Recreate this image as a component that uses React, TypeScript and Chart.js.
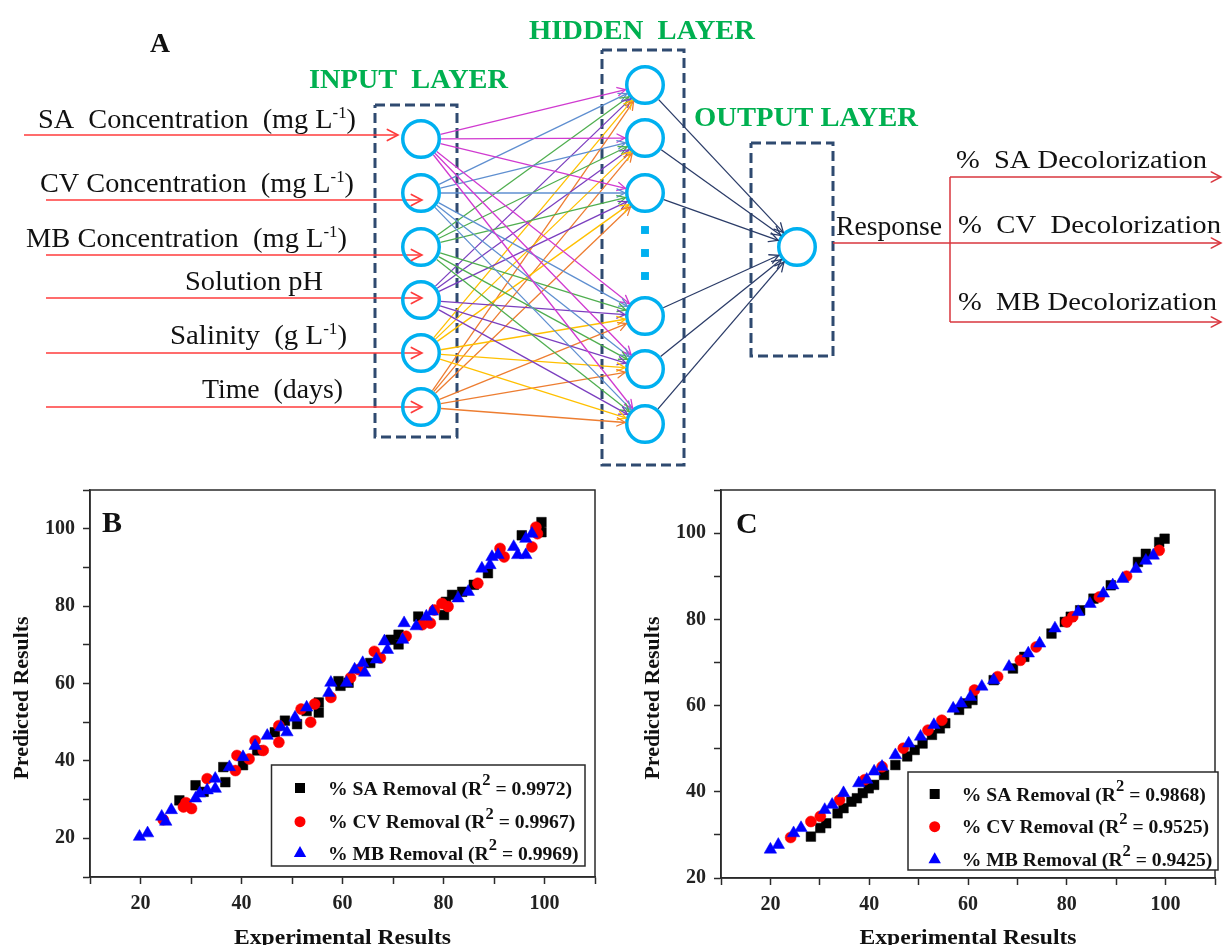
import React, { useEffect, useRef } from 'react';
import { Chart, registerables } from 'chart.js';

Chart.register(...registerables);

const SERIF = '"Liberation Serif", "Times New Roman", Times, serif';
const INK = '#111111';
const GREEN = '#00b050';
const NODE_BLUE = '#00b0f0';
const BOX_NAVY = '#2f4a70';
const LINK_NAVY = '#2b3c68';
const ARROW_RED = '#ff3b3b';
const OUT_RED = '#d9363e';
const AXIS_INK = '#2a2a2a';

// ================= Panel A : network diagram =================
const PANEL_A_LETTER = 'A';
const LAYER_TITLES = ['INPUT  LAYER', 'HIDDEN  LAYER', 'OUTPUT LAYER'];
const INPUT_LABELS = [
  'SA  Concentration  (mg L^{-1})',
  'CV Concentration  (mg L^{-1})',
  'MB Concentration  (mg L^{-1})',
  'Solution pH',
  'Salinity  (g L^{-1})',
  'Time  (days)',
];
const RESPONSE_LABEL = 'Response';
const OUTPUT_LABELS = ['%  SA Decolorization', '%  CV  Decolorization', '%  MB Decolorization'];
const INPUT_LINK_COLORS = ['#d03ad0', '#5f8fd0', '#4fae4f', '#7b3fbf', '#ffc000', '#ed7d31'];

const INPUT_NODE_X = 421;
const INPUT_NODE_Y = [139, 193, 247, 300, 353, 407];
const HIDDEN_NODE_X = 645;
const HIDDEN_NODE_Y = [85, 138, 193, 316, 369, 424];
const HIDDEN_DOTS_Y = [230, 253, 276];
const OUTPUT_NODE_X = 797;
const OUTPUT_NODE_Y = 247;
const NODE_R = 20;
const INPUT_ARROW_Y = [135, 200, 255, 298, 353, 407];
const INPUT_ARROW_START = [24, 46, 46, 46, 46, 46];
const INPUT_ARROW_END = [398, 422, 422, 422, 422, 422];
const RESPONSE_START = 833;
const BRANCH_X = 950;
const OUTPUT_ARROW_Y = [177, 243, 322];
const OUTPUT_ARROW_END = 1221;
const LAYER_BOXES = [
  [375, 105, 457, 437],
  [602, 50, 684, 465],
  [751, 143, 833, 356],
];

// ================= Panels B, C : scatter =================
const X_TITLE = 'Experimental Results';
const Y_TITLE = 'Predicted Results';
const SERIES_NAMES = ['% SA Removal', '% CV Removal', '% MB Removal'];
const TICK_LABELS = [20, 40, 60, 80, 100];
const R2_B = ['0.9972', '0.9967', '0.9969'];
const R2_C = ['0.9868', '0.9525', '0.9425'];

const SA_B = [
  [27.7, 29.8], [30.9, 33.7], [32.5, 32.0], [36.8, 34.5], [36.4, 38.4], [40.3, 38.9], [43.1, 42.7],
  [46.6, 47.4], [48.6, 50.4], [51.0, 49.5], [52.9, 52.9], [55.3, 55.1], [55.3, 52.5], [59.2, 60.6],
  [59.6, 59.4], [61.2, 60.2], [65.5, 65.3], [69.5, 71.3], [71.1, 72.6], [71.1, 70.1], [75.0, 77.3],
  [80.1, 77.7], [80.5, 81.1], [81.7, 82.9], [83.7, 83.7], [86.0, 85.5], [88.8, 88.5], [95.5, 98.3],
  [99.0, 100.0], [99.4, 101.7], [99.4, 99.1],
];
const CV_B = [
  [24.5, 24.8], [28.5, 28.1], [30.1, 27.7], [29.0, 29.2], [33.2, 35.4], [38.8, 37.5], [39.1, 41.4],
  [41.5, 40.5], [42.7, 45.2], [44.3, 42.7], [47.4, 44.8], [47.4, 49.1], [51.8, 53.4], [53.7, 50.0],
  [54.5, 54.7], [57.7, 56.4], [61.6, 61.5], [63.2, 63.6], [66.3, 68.3], [67.5, 66.6], [72.6, 72.2],
  [75.8, 75.2], [77.4, 75.6], [78.2, 79.0], [79.7, 80.7], [80.9, 79.9], [86.8, 85.9], [91.2, 94.9],
  [92.0, 92.7], [97.5, 95.3], [98.3, 100.4], [98.6, 98.7],
];
const MB_B = [
  [19.8, 20.4], [21.4, 21.3], [24.2, 25.6], [25.0, 24.3], [26.1, 27.3], [30.9, 30.3], [31.7, 31.6],
  [33.2, 32.4], [34.8, 35.4], [34.8, 32.8], [37.6, 38.4], [40.3, 41.0], [42.7, 43.9], [45.1, 46.5],
  [47.8, 48.7], [49.0, 47.4], [50.6, 51.2], [52.9, 53.8], [57.3, 57.6], [57.7, 60.2], [60.8, 60.2],
  [62.4, 63.6], [64.0, 65.3], [64.4, 62.8], [66.7, 66.2], [68.3, 70.9], [68.9, 68.7], [71.9, 71.3],
  [72.2, 75.6], [74.6, 74.8], [76.6, 77.3], [77.8, 78.6], [82.9, 82.0], [84.9, 83.7], [87.6, 89.7],
  [89.2, 90.6], [89.6, 92.7], [90.8, 93.2], [93.9, 95.3], [94.7, 93.2], [96.3, 93.2], [96.3, 97.4],
  [97.5, 98.7],
];

const SA_C = [
  [28.2, 29.6], [30.1, 31.6], [31.3, 32.7], [33.6, 35.0], [34.8, 36.2], [36.4, 37.7], [37.5, 38.5],
  [38.7, 39.7], [39.9, 40.8], [41.0, 41.6], [43.0, 43.9], [45.3, 46.2], [47.7, 48.2], [49.2, 49.7],
  [50.8, 51.2], [52.7, 53.2], [54.3, 54.7], [55.4, 55.9], [58.2, 59.0], [59.7, 60.5], [60.9, 61.3],
  [65.2, 65.9], [69.1, 68.6], [71.4, 71.3], [76.9, 76.7], [79.6, 79.4], [80.8, 80.6], [82.7, 82.1],
  [85.4, 84.8], [88.9, 87.9], [94.4, 93.3], [96.0, 95.2], [98.7, 97.9], [99.8, 98.7],
];
const CV_C = [
  [24.1, 29.4], [28.2, 33.1], [30.1, 34.3], [34.0, 38.1], [39.1, 42.8], [42.6, 45.8], [46.9, 50.1],
  [51.9, 54.3], [54.7, 56.6], [61.3, 63.6], [66.0, 66.7], [70.6, 70.5], [73.8, 73.6], [80.0, 79.4],
  [81.2, 80.6], [86.6, 85.2], [92.1, 90.0], [98.7, 96.0],
];
const MB_C = [
  [20.0, 26.6], [21.6, 27.7], [24.7, 30.4], [26.2, 31.6], [31.0, 35.8], [32.5, 37.0], [34.8, 39.7],
  [37.9, 42.0], [39.5, 42.8], [41.0, 44.7], [42.6, 45.8], [45.3, 48.5], [48.0, 51.2], [50.4, 52.8],
  [53.1, 55.5], [57.0, 59.3], [58.6, 60.5], [60.5, 62.0], [62.8, 64.4], [65.2, 65.9], [68.3, 69.0],
  [72.2, 72.1], [74.5, 74.4], [77.6, 77.9], [82.3, 81.7], [84.7, 83.6], [87.4, 86.0], [89.3, 87.9],
  [91.3, 89.4], [94.0, 91.7], [96.0, 93.6], [97.5, 94.8],
];

// ================= helpers =================
type Seg = { t: string; sup: boolean };
function parseRich(s: string): Seg[] {
  const out: Seg[] = [];
  const re = /\^\{([^}]*)\}/g;
  let last = 0;
  let m: RegExpExecArray | null;
  while ((m = re.exec(s))) {
    if (m.index > last) out.push({ t: s.slice(last, m.index), sup: false });
    out.push({ t: m[1], sup: true });
    last = re.lastIndex;
  }
  if (last < s.length) out.push({ t: s.slice(last), sup: false });
  return out;
}

function richWidth(ctx: CanvasRenderingContext2D, text: string, size: number, weight: string, supScale: number) {
  const segs = parseRich(text);
  let w = 0;
  segs.forEach((s) => {
    ctx.font = `${weight} ${s.sup ? Math.round(size * supScale) : size}px ${SERIF}`;
    w += ctx.measureText(s.t).width;
  });
  return w;
}

function drawRich(
  ctx: CanvasRenderingContext2D,
  text: string,
  x: number,
  y: number,
  o: { size: number; weight?: string; color?: string; w?: number; sx?: number; align?: string; supScale?: number; supRise?: number }
) {
  const weight = o.weight || 'normal';
  const supScale = o.supScale ?? 0.6;
  const supRise = o.supRise ?? 0.38;
  const segs = parseRich(text);
  ctx.save();
  const natural = richWidth(ctx, text, o.size, weight, supScale);
  const sx = o.w ? o.w / natural : o.sx ?? 1;
  const total = natural * sx;
  ctx.translate(o.align === 'center' ? x - total / 2 : x, y);
  ctx.scale(sx, 1);
  ctx.fillStyle = o.color || INK;
  ctx.textAlign = 'left';
  ctx.textBaseline = 'alphabetic';
  let cx = 0;
  segs.forEach((s) => {
    ctx.font = `${weight} ${s.sup ? Math.round(o.size * supScale) : o.size}px ${SERIF}`;
    ctx.fillText(s.t, cx, s.sup ? -o.size * supRise : 0);
    cx += ctx.measureText(s.t).width;
  });
  ctx.restore();
}

function drawArrowHead(ctx: CanvasRenderingContext2D, x0: number, y0: number, x1: number, y1: number, color: string, lw: number, len: number) {
  const ang = Math.atan2(y1 - y0, x1 - x0);
  const a = 0.48;
  ctx.save();
  ctx.strokeStyle = color;
  ctx.lineWidth = lw;
  ctx.lineCap = 'round';
  ctx.lineJoin = 'miter';
  ctx.beginPath();
  ctx.moveTo(x1 - len * Math.cos(ang - a), y1 - len * Math.sin(ang - a));
  ctx.lineTo(x1, y1);
  ctx.lineTo(x1 - len * Math.cos(ang + a), y1 - len * Math.sin(ang + a));
  ctx.stroke();
  ctx.restore();
}

// ================= Panel A chart =================
const A_TEXT_LAYOUT = [
  { text: PANEL_A_LETTER, x: 150, y: 52, w: 20, size: 28, weight: 'bold', color: INK },
  { text: LAYER_TITLES[0], x: 309, y: 88, w: 199, size: 28, weight: 'bold', color: GREEN },
  { text: LAYER_TITLES[1], x: 529, y: 39, w: 226, size: 28, weight: 'bold', color: GREEN },
  { text: LAYER_TITLES[2], x: 694, y: 126, w: 224, size: 28, weight: 'bold', color: GREEN },
  { text: INPUT_LABELS[0], x: 38, y: 128, w: 318, size: 27, weight: 'normal', color: INK },
  { text: INPUT_LABELS[1], x: 40, y: 192, w: 314, size: 27, weight: 'normal', color: INK },
  { text: INPUT_LABELS[2], x: 26, y: 247, w: 321, size: 27, weight: 'normal', color: INK },
  { text: INPUT_LABELS[3], x: 185, y: 290, w: 138, size: 27, weight: 'normal', color: INK },
  { text: INPUT_LABELS[4], x: 170, y: 344, w: 177, size: 27, weight: 'normal', color: INK },
  { text: INPUT_LABELS[5], x: 202, y: 398, w: 141, size: 27, weight: 'normal', color: INK },
  { text: RESPONSE_LABEL, x: 836, y: 235, w: 106, size: 27, weight: 'normal', color: INK },
  { text: OUTPUT_LABELS[0], x: 956, y: 168, w: 251, size: 26, weight: 'normal', color: INK },
  { text: OUTPUT_LABELS[1], x: 958, y: 233, w: 263, size: 26, weight: 'normal', color: INK },
  { text: OUTPUT_LABELS[2], x: 958, y: 310, w: 259, size: 26, weight: 'normal', color: INK },
];

const networkPlugin = {
  id: 'networkDecor',
  afterDatasetsDraw(chart: any) {
    const ctx: CanvasRenderingContext2D = chart.ctx;
    chart.data.datasets.forEach((ds: any, i: number) => {
      if (!ds.arrow) return;
      const pts = chart.getDatasetMeta(i).data;
      const a = pts[pts.length - 2];
      const b = pts[pts.length - 1];
      drawArrowHead(ctx, a.x, a.y, b.x, b.y, ds.borderColor, ds.borderWidth, ds.head || 9);
    });
    const xs = chart.scales.x;
    const ys = chart.scales.y;
    A_TEXT_LAYOUT.forEach((t) => {
      drawRich(ctx, t.text, xs.getPixelForValue(t.x), ys.getPixelForValue(t.y), {
        size: t.size, weight: t.weight, color: t.color, w: t.w, supScale: 0.6, supRise: 0.36,
      });
    });
  },
};

function seg(p0: any, p1: any, color: string, width: number, arrow: boolean, head = 9) {
  return {
    data: [p0, p1], showLine: true, borderColor: color, borderWidth: width, pointRadius: 0,
    pointHoverRadius: 0, clip: false, fill: false, arrow, head,
  };
}

function makeNetwork(canvas: HTMLCanvasElement) {
  const datasets: any[] = [];
  const node = (pts: any[]) => ({
    data: pts, showLine: false, pointStyle: 'circle', pointRadius: NODE_R - 1.75, pointHoverRadius: NODE_R - 1.75,
    pointBorderWidth: 3.5, pointBorderColor: NODE_BLUE, pointBackgroundColor: 'rgba(255,255,255,0)', clip: false,
  });
  const inputs = INPUT_NODE_Y.map((y) => ({ x: INPUT_NODE_X, y }));
  const hiddens = HIDDEN_NODE_Y.map((y) => ({ x: HIDDEN_NODE_X, y }));
  const out = { x: OUTPUT_NODE_X, y: OUTPUT_NODE_Y };
  datasets.push(node(inputs));
  datasets.push(node(hiddens));
  datasets.push(node([out]));
  datasets.push({
    data: HIDDEN_DOTS_Y.map((y) => ({ x: HIDDEN_NODE_X, y })), showLine: false, pointStyle: 'rect',
    pointRadius: 5.6, pointBorderWidth: 0, pointBackgroundColor: NODE_BLUE, pointBorderColor: NODE_BLUE, clip: false,
  });
  const unit = (a: any, b: any) => {
    const dx = b.x - a.x, dy = b.y - a.y;
    const L = Math.hypot(dx, dy);
    return { x: dx / L, y: dy / L };
  };
  INPUT_ARROW_Y.forEach((y, i) => {
    datasets.push(seg({ x: INPUT_ARROW_START[i], y }, { x: INPUT_ARROW_END[i], y }, ARROW_RED, 1.6, true, 12));
  });
  hiddens.forEach((h) => {
    const u = unit(h, out);
    datasets.push(seg({ x: h.x + u.x * NODE_R, y: h.y + u.y * NODE_R }, { x: out.x - u.x * NODE_R, y: out.y - u.y * NODE_R }, LINK_NAVY, 1.3, true, 10));
  });
  inputs.forEach((p, i) => {
    hiddens.forEach((h) => {
      const u = unit(p, h);
      datasets.push(seg({ x: p.x + u.x * NODE_R, y: p.y + u.y * NODE_R }, { x: h.x - u.x * NODE_R, y: h.y - u.y * NODE_R }, INPUT_LINK_COLORS[i], 1.3, true, 9));
    });
  });
  datasets.push(seg({ x: RESPONSE_START, y: OUTPUT_ARROW_Y[1] }, { x: OUTPUT_ARROW_END, y: OUTPUT_ARROW_Y[1] }, OUT_RED, 1.5, true, 11));
  datasets.push(seg({ x: BRANCH_X, y: OUTPUT_ARROW_Y[0] }, { x: BRANCH_X, y: OUTPUT_ARROW_Y[2] }, OUT_RED, 1.5, false));
  datasets.push(seg({ x: BRANCH_X, y: OUTPUT_ARROW_Y[0] }, { x: OUTPUT_ARROW_END, y: OUTPUT_ARROW_Y[0] }, OUT_RED, 1.5, true, 11));
  datasets.push(seg({ x: BRANCH_X, y: OUTPUT_ARROW_Y[2] }, { x: OUTPUT_ARROW_END, y: OUTPUT_ARROW_Y[2] }, OUT_RED, 1.5, true, 11));
  LAYER_BOXES.forEach(([x0, y0, x1, y1]) => {
    datasets.push({
      data: [{ x: x0, y: y0 }, { x: x1, y: y0 }, { x: x1, y: y1 }, { x: x0, y: y1 }, { x: x0, y: y0 }],
      showLine: true, borderColor: BOX_NAVY, borderWidth: 3, borderDash: [10, 5], borderCapStyle: 'butt',
      borderJoinStyle: 'miter', pointRadius: 0, pointHoverRadius: 0, clip: false, fill: false,
    });
  });

  return new Chart(canvas, {
    type: 'scatter',
    data: { datasets },
    options: {
      responsive: false,
      animation: false,
      events: [],
      layout: { padding: 0, autoPadding: false },
      plugins: { legend: { display: false }, tooltip: { enabled: false } },
      scales: {
        x: { type: 'linear', display: false, min: 0, max: 1223 },
        y: { type: 'linear', display: false, min: 0, max: 470, reverse: true },
      },
    },
    plugins: [networkPlugin],
  } as any);
}

// ================= Panels B / C =================
const MARKERS = [
  { style: 'rect', r: 6.8, color: '#000000' },
  { style: 'circle', r: 5.5, color: '#ff0000' },
  { style: 'triangle', r: 7.2, color: '#0000ff' },
];

type PanelCfg = {
  letter: string;
  series: number[][][];
  r2: string[];
  yMin: number;
  yAxisW: number;
  xAxisH: number;
  padRight: number;
  letterX: number;
  letterY: number;
  yTitleX: number;
  yTitleY: number;
  xTitleY: number;
  legend: { x0: number; y0: number; x1: number; y1: number; markerX: number; textX: number; textW: number; rows: number[] };
};

const PANEL_B: PanelCfg = {
  letter: 'B', series: [SA_B, CV_B, MB_B], r2: R2_B, yMin: 10, yAxisW: 90, xAxisH: 68, padRight: 15,
  letterX: 102, letterY: 62, yTitleX: 27.5, yTitleY: 228, xTitleY: 473.5,
  legend: { x0: 271.5, y0: 295, x1: 585, y1: 396, markerX: 300, textX: 328, textW: 244, rows: [318, 351.7, 383] },
};
const PANEL_C: PanelCfg = {
  letter: 'C', series: [SA_C, CV_C, MB_C], r2: R2_C, yMin: 20, yAxisW: 111, xAxisH: 67, padRight: 2,
  letterX: 126, letterY: 63, yTitleX: 48.5, yTitleY: 228, xTitleY: 473.5,
  legend: { x0: 298, y0: 302, x1: 608, y1: 400, markerX: 324.7, textX: 351.8, textW: 244, rows: [324, 356.7, 389.3] },
};

function drawMarker(ctx: CanvasRenderingContext2D, style: string, x: number, y: number, color: string) {
  ctx.save();
  ctx.fillStyle = color;
  ctx.beginPath();
  if (style === 'rect') {
    ctx.rect(x - 5, y - 5, 10, 10);
  } else if (style === 'circle') {
    ctx.arc(x, y, 5.5, 0, Math.PI * 2);
  } else {
    ctx.moveTo(x, y - 7);
    ctx.lineTo(x + 6.2, y + 4);
    ctx.lineTo(x - 6.2, y + 4);
    ctx.closePath();
  }
  ctx.fill();
  ctx.restore();
}

function makePanelPlugin(p: PanelCfg) {
  return {
    id: 'panelDecor',
    afterDraw(chart: any) {
      const ctx: CanvasRenderingContext2D = chart.ctx;
      const a = chart.chartArea;
      ctx.save();
      ctx.strokeStyle = AXIS_INK;
      ctx.lineWidth = 1.5;
      ctx.strokeRect(a.left, a.top, a.right - a.left, a.bottom - a.top);
      ctx.restore();
      drawRich(ctx, p.letter, p.letterX, p.letterY, { size: 30, weight: 'bold', color: INK });
      drawRich(ctx, X_TITLE, (a.left + a.right) / 2, p.xTitleY, { size: 22, weight: 'bold', color: INK, w: 217, align: 'center' });
      ctx.save();
      ctx.translate(p.yTitleX, p.yTitleY);
      ctx.rotate(-Math.PI / 2);
      drawRich(ctx, Y_TITLE, 0, 0, { size: 22, weight: 'bold', color: INK, w: 163, align: 'center' });
      ctx.restore();
      const L = p.legend;
      ctx.save();
      ctx.fillStyle = '#ffffff';
      ctx.fillRect(L.x0, L.y0, L.x1 - L.x0, L.y1 - L.y0);
      ctx.strokeStyle = AXIS_INK;
      ctx.lineWidth = 1.5;
      ctx.strokeRect(L.x0, L.y0, L.x1 - L.x0, L.y1 - L.y0);
      ctx.restore();
      const rows = SERIES_NAMES.map((n, i) => `${n} (R^{2} = ${p.r2[i]})`);
      const natural = richWidth(ctx, rows[0], 19, 'bold', 0.82);
      const sx = L.textW / natural;
      rows.forEach((r, i) => {
        drawMarker(ctx, MARKERS[i].style, L.markerX, L.rows[i], MARKERS[i].color);
        drawRich(ctx, r, L.textX, L.rows[i] + 6.5, { size: 19, weight: 'bold', color: INK, sx, supScale: 0.82, supRise: 0.5 });
      });
    },
  };
}

function makeScatter(canvas: HTMLCanvasElement, p: PanelCfg) {
  const tickFont = { family: SERIF, size: 20, weight: 'bold' };
  const label = (v: any) => (TICK_LABELS.includes(Number(v)) ? String(v) : '');
  return new Chart(canvas, {
    type: 'scatter',
    data: {
      datasets: p.series.map((s, i) => ({
        label: SERIES_NAMES[i],
        data: s.map(([x, y]) => ({ x, y })),
        pointStyle: MARKERS[i].style,
        pointRadius: MARKERS[i].r,
        pointHoverRadius: MARKERS[i].r,
        pointBackgroundColor: MARKERS[i].color,
        pointBorderColor: MARKERS[i].color,
        pointBorderWidth: 0.5,
        order: 2 - i,
        clip: false,
      })),
    },
    options: {
      responsive: false,
      animation: false,
      events: [],
      layout: { padding: { left: 0, top: 19, right: p.padRight, bottom: 0 }, autoPadding: false },
      plugins: { legend: { display: false }, tooltip: { enabled: false } },
      scales: {
        x: {
          type: 'linear', min: 10, max: 110,
          afterFit: (s: any) => { s.height = p.xAxisH; },
          ticks: { stepSize: 10, autoSkip: false, maxRotation: 0, callback: label, font: tickFont, color: '#222', padding: 8 },
          grid: { drawOnChartArea: false, drawTicks: true, tickLength: 7, tickColor: AXIS_INK, tickWidth: 1.5 },
          border: { display: true, color: AXIS_INK, width: 1.5 },
        },
        y: {
          type: 'linear', min: p.yMin, max: 110,
          afterFit: (s: any) => { s.width = p.yAxisW; },
          ticks: { stepSize: 10, autoSkip: false, callback: label, font: tickFont, color: '#222', padding: 8 },
          grid: { drawOnChartArea: false, drawTicks: true, tickLength: 7, tickColor: AXIS_INK, tickWidth: 1.5 },
          border: { display: true, color: AXIS_INK, width: 1.5 },
        },
      },
    },
    plugins: [makePanelPlugin(p)],
  } as any);
}

export default function App() {
  const aRef = useRef<HTMLCanvasElement>(null);
  const bRef = useRef<HTMLCanvasElement>(null);
  const cRef = useRef<HTMLCanvasElement>(null);

  useEffect(() => {
    const charts = [
      makeNetwork(aRef.current as HTMLCanvasElement),
      makeScatter(bRef.current as HTMLCanvasElement, PANEL_B),
      makeScatter(cRef.current as HTMLCanvasElement, PANEL_C),
    ];
    return () => charts.forEach((c) => c.destroy());
  }, []);

  return (
    <div style={{ position: 'absolute', left: 0, top: 0, width: 1223, height: 945, background: '#ffffff', overflow: 'hidden' }}>
      <canvas ref={aRef} width={1223} height={470} style={{ position: 'absolute', left: 0, top: 0, width: 1223, height: 470 }} />
      <canvas ref={bRef} width={610} height={475} style={{ position: 'absolute', left: 0, top: 470, width: 610, height: 475 }} />
      <canvas ref={cRef} width={613} height={475} style={{ position: 'absolute', left: 610, top: 470, width: 613, height: 475 }} />
    </div>
  );
}
